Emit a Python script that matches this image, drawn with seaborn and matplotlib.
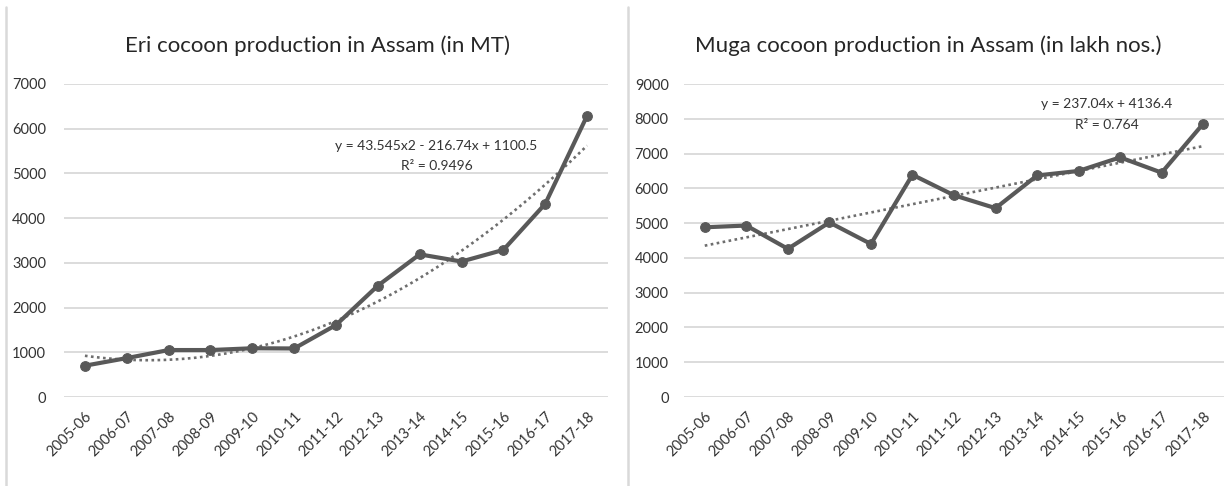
import numpy as np
import pandas as pd
import matplotlib
matplotlib.use("Agg")
import matplotlib.pyplot as plt
from matplotlib.lines import Line2D
import seaborn as sns

# data
years = ['2005-06', '2006-07', '2007-08', '2008-09', '2009-10', '2010-11', '2011-12',
         '2012-13', '2013-14', '2014-15', '2015-16', '2016-17', '2017-18']
eri_mt = [700, 870, 1050, 1050, 1090, 1085, 1610, 2490, 3190, 3030, 3290, 4320, 6290]
muga_lakh = [4880, 4930, 4260, 5020, 4400, 6390, 5800, 5430, 6370, 6500, 6890, 6450, 7860]

eri_title = 'Eri cocoon production in Assam (in MT)'
muga_title = 'Muga cocoon production in Assam (in lakh nos.)'
eri_eq = 'y = 43.545x2 - 216.74x + 1100.5\nR² = 0.9496'
muga_eq = 'y = 237.04x + 4136.4\nR² = 0.764'

sns.set_theme(style='white')
plt.rcParams['font.family'] = ['Lato', 'DejaVu Sans']

LINE = '#595959'
TEXT = '#333333'
GRID = '#d9d9d9'

fig = plt.figure(figsize=(12.24, 4.86), dpi=100)
ax1 = fig.add_axes([64 / 1224, 89 / 486, 544 / 1224, 313 / 486])
ax2 = fig.add_axes([684 / 1224, 89 / 486, 540 / 1224, 313 / 486])


def draw(ax, values, ymax, deg, eq, eq_pos, ypad):
    df = pd.DataFrame({'pos': np.arange(len(years)), 'val': values})
    # trendline fitted on the data (Excel uses x = 1..n)
    xs = np.arange(1, len(values) + 1)
    coef = np.polyfit(xs, values, deg)
    fine = np.linspace(1, len(values), 200)
    ax.plot(fine - 1, np.polyval(coef, fine), linestyle=(0, (1, 1.3)),
            color='#6e6e6e', lw=1.9, zorder=2)
    sns.lineplot(data=df, x='pos', y='val', ax=ax, color=LINE, lw=3,
                 marker='o', markersize=7, markeredgecolor=LINE, zorder=3)
    ax.set_xlim(-0.5, len(years) - 0.5)
    ax.set_ylim(0, ymax)
    ax.set_yticks(np.arange(0, ymax + 1, 1000))
    ax.set_xticks(df['pos'])
    ax.set_xticklabels(years, rotation=45, ha='right', rotation_mode='anchor')
    ax.grid(axis='y', color=GRID, lw=1.3)
    ax.set_axisbelow(True)
    for s in ax.spines.values():
        s.set_visible(False)
    ax.tick_params(axis='y', length=0, pad=ypad, labelsize=10.5, labelcolor=TEXT)
    ax.tick_params(axis='x', length=0, pad=9, labelsize=10.5, labelcolor=TEXT)
    ax.set_xlabel('')
    ax.set_ylabel('')
    ax.text(eq_pos[0], eq_pos[1], eq, transform=ax.transData, ha='center',
            va='center', fontsize=10, color=TEXT, linespacing=1.85)


draw(ax1, eri_mt, 7000, 2, eri_eq, (8.4, 5390), 13)
draw(ax2, muga_lakh, 9000, 1, muga_eq, (9.67, 8130), 11)

# titles are centred over each chart box, not over the plot area
fig.text(317 / 1224, 1 - 46 / 486, eri_title, ha='center', va='center',
         fontsize=16, color='#262626')
fig.text(928 / 1224, 1 - 46 / 486, muga_title, ha='center', va='center',
         fontsize=16, color='#262626')

# chart frame lines
fig.add_artist(Line2D([6 / 1224, 6 / 1224], [0, 479 / 486], color=GRID, lw=1.8))
fig.add_artist(Line2D([628 / 1224, 628 / 1224], [0, 479 / 486], color=GRID, lw=1.8))

fig.savefig('out.png', dpi=100, facecolor='white')
